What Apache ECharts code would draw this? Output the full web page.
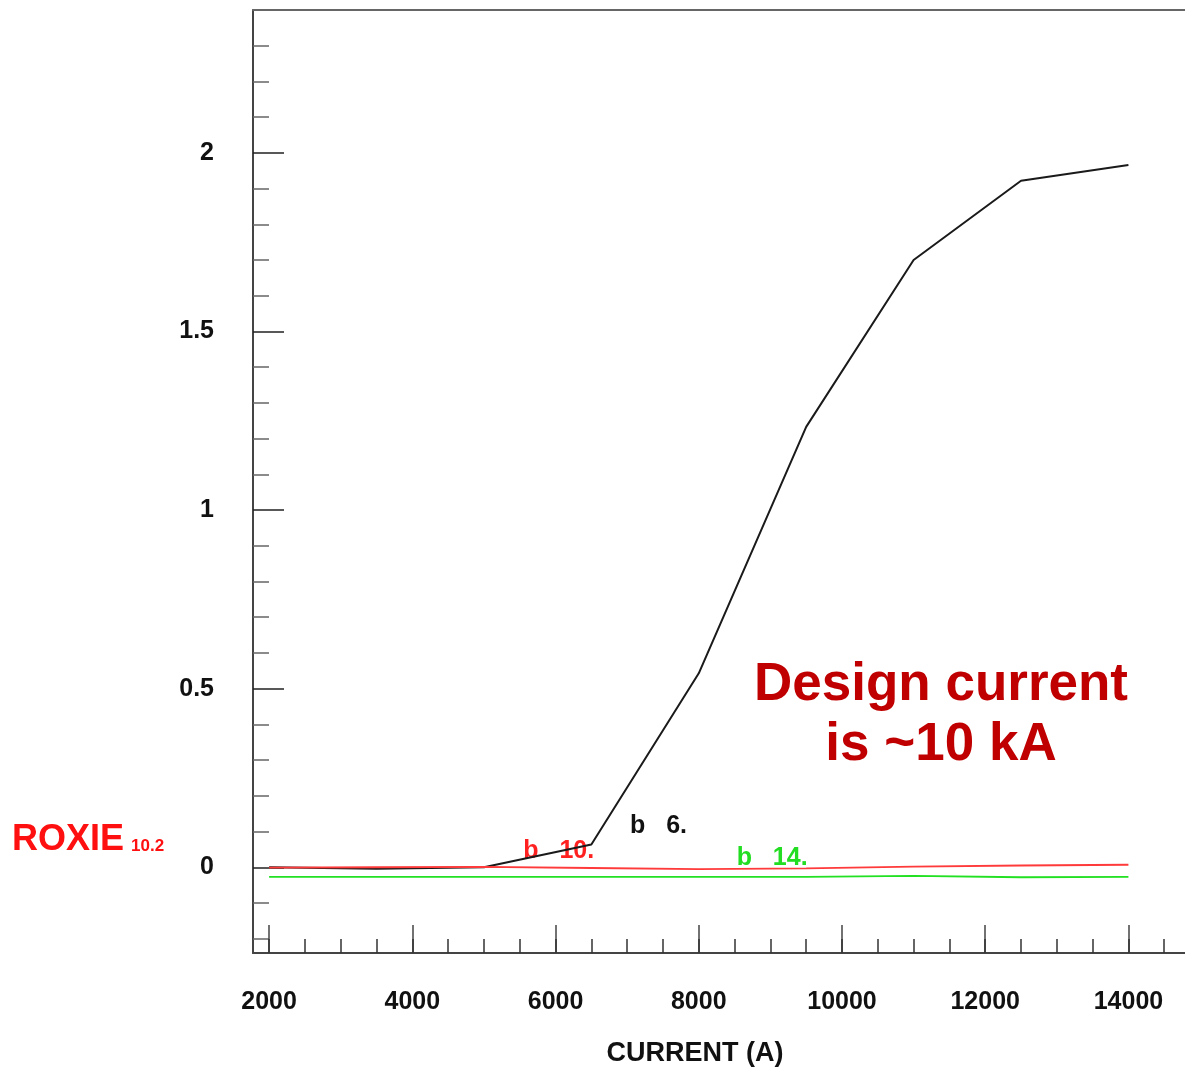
<!DOCTYPE html>
<html>
<head>
<meta charset="utf-8">
<script src="https://cdn.jsdelivr.net/npm/echarts@6/dist/echarts.min.js"></script>
<style>
  html, body { margin: 0; padding: 0; background: #fff; }
  #chart { width: 1185px; height: 1067px; }
</style>
</head>
<body>
<div id="chart"></div>
<script>
// current (A)
var currents = [2000, 3500, 5000, 6500, 8000, 9500, 11000, 12500, 14000]
// harmonics b6, b10, b14
var b6 = [0.0, -0.004, 0.0, 0.064, 0.543, 1.233, 1.700, 1.922, 1.966]
var b10 = [-0.001, 0.0, 0.001, -0.002, -0.005, -0.003, 0.002, 0.005, 0.007]
var b14 = [-0.027, -0.027, -0.027, -0.027, -0.027, -0.027, -0.024, -0.028, -0.027]

var xMajor = [2000, 4000, 6000, 8000, 10000, 12000, 14000]
var xMinor = [2000, 2500, 3000, 3500, 4000, 4500, 5000, 5500, 6000, 6500, 7000, 7500, 8000,
  8500, 9000, 9500, 10000, 10500, 11000, 11500, 12000, 12500, 13000, 13500, 14000, 14500]
var yMajor = [0, 0.5, 1, 1.5, 2]
var yMinor = [-0.2, -0.1, 0.1, 0.2, 0.3, 0.4, 0.6, 0.7, 0.8, 0.9, 1.1, 1.2, 1.3, 1.4,
  1.6, 1.7, 1.8, 1.9, 2.1, 2.2, 2.3]

// curve labels: [text, current, value, colour]
var curveLabels = [
  ['b   6.', 7040, 0.115, '#111'],
  ['b   10.', 5550, 0.045, '#ff2020'],
  ['b   14.', 8530, 0.025, '#22dd22']
]

var chart = echarts.init(document.getElementById('chart'))
var axisCol = '#444'
var font = 'Liberation Sans, Arial, sans-serif'

function pairs(ys) {
  return currents.map(function(x, i) { return [x, ys[i]] })
}

chart.setOption({
  animation: false,
  grid: { left: 253, right: 0, top: 10, bottom: 114, outerBoundsMode: 'none' },
  xAxis: [{
    type: 'value',
    min: 1775,
    max: 14790,
    position: 'bottom',
    splitLine: { show: false },
    axisLine: { onZero: false, lineStyle: { color: axisCol, width: 2 } },
    axisTick: { inside: true, length: 28, customValues: xMajor, lineStyle: { color: axisCol, width: 1.5 } },
    axisLabel: {
      customValues: xMajor,
      formatter: function(v) { return String(v) },
      margin: 37,
      color: '#111',
      fontSize: 25,
      fontWeight: 'bold',
      fontFamily: font
    },
    name: 'CURRENT (A)',
    nameLocation: 'middle',
    nameGap: 87,
    nameTextStyle: { color: '#111', fontSize: 27, fontWeight: 'bold', fontFamily: font, padding: [0, 48, 0, 0] }
  }, {
    type: 'value',
    min: 1775,
    max: 14790,
    position: 'bottom',
    splitLine: { show: false },
    axisLine: { show: false, onZero: false },
    axisTick: { inside: true, length: 14, customValues: xMinor, lineStyle: { color: '#333', width: 1.5 } },
    axisLabel: { show: false }
  }, {
    type: 'value',
    min: 1775,
    max: 14790,
    position: 'top',
    splitLine: { show: false },
    axisLine: { onZero: false, lineStyle: { color: '#666', width: 2 } },
    axisTick: { show: false },
    axisLabel: { show: false }
  }],
  yAxis: [{
    type: 'value',
    min: -0.24,
    max: 2.4,
    position: 'left',
    splitLine: { show: false },
    axisLine: { onZero: false, lineStyle: { color: axisCol, width: 2 } },
    axisTick: { inside: true, length: 31, customValues: yMajor, lineStyle: { color: '#222', width: 1.5 } },
    axisLabel: {
      customValues: yMajor,
      margin: 39,
      color: '#111',
      fontSize: 25,
      fontWeight: 'bold',
      fontFamily: font,
      padding: [8, 0, 0, 0]
    }
  }, {
    type: 'value',
    min: -0.24,
    max: 2.4,
    position: 'left',
    splitLine: { show: false },
    axisLine: { show: false, onZero: false },
    axisTick: { inside: true, length: 16, customValues: yMinor, lineStyle: { color: '#666', width: 1.5 } },
    axisLabel: { show: false }
  }],
  series: [{
    name: 'b14',
    type: 'line',
    data: pairs(b14),
    showSymbol: false,
    lineStyle: { color: '#22e022', width: 1.8 }
  }, {
    name: 'b6',
    type: 'line',
    data: pairs(b6),
    showSymbol: false,
    lineStyle: { color: '#1a1a1a', width: 2 }
  }, {
    name: 'b10',
    type: 'line',
    data: pairs(b10),
    showSymbol: false,
    lineStyle: { color: '#ff3a3a', width: 1.8 }
  }, {
    name: 'labels',
    type: 'scatter',
    symbolSize: 0,
    silent: true,
    itemStyle: { opacity: 1 },
    data: curveLabels.map(function(d) {
      return {
        value: [d[1], d[2]],
        label: {
          show: true,
          position: 'inside',
          align: 'left',
          verticalAlign: 'middle',
          formatter: d[0],
          color: d[3],
          opacity: 1,
          fontSize: 25,
          fontWeight: 'bold',
          fontFamily: font
        }
      }
    })
  }],
  graphic: [{
    type: 'text',
    x: 12,
    y: 822,
    style: { text: 'ROXIE', fill: '#ff1010', font: 'bold 36px ' + font }
  }, {
    type: 'text',
    x: 131,
    y: 838,
    style: { text: '10.2', fill: '#ff1010', font: 'bold 17px ' + font }
  }, {
    type: 'text',
    x: 941,
    y: 655,
    style: {
      text: 'Design current\nis ~10 kA',
      fill: '#c00000',
      font: 'bold 53px ' + font,
      align: 'center',
      lineHeight: 60
    }
  }]
})
</script>
</body>
</html>
